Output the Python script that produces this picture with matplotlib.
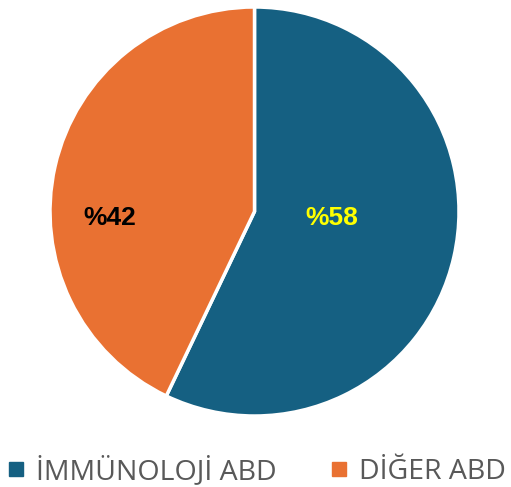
import matplotlib.pyplot as plt
from matplotlib.lines import Line2D

# share of departments
labels = ['İMMÜNOLOJİ ABD', 'DİĞER ABD']
values = [57.1, 42.9]          # slice sizes as drawn
pct_labels = ['%58', '%42']    # data labels as printed
colors = ['#156082', '#E97132']
label_colors = ['#FFFF00', '#000000']

fig = plt.figure(figsize=(5.11, 4.87), dpi=100)
ax = fig.add_axes([50 / 511, (487 - 416) / 487, 409 / 511, 409 / 487])

wedges, texts = ax.pie(values, colors=colors, startangle=90, counterclock=False, radius=1,
                       wedgeprops=dict(edgecolor='white', linewidth=2.5))

# Excel-like placement of the data labels
label_pos = [(0.38, -0.03), (-0.71, -0.03)]
for lab, c, p in zip(pct_labels, label_colors, label_pos):
    ax.text(p[0], p[1], lab, color=c, ha='center', va='center', fontsize=19,
            fontweight='bold', family='Liberation Sans')

ax.set_xlim(-1, 1)
ax.set_ylim(-1, 1)
ax.set_aspect('equal')
ax.axis('off')

handles = [Line2D([], [], marker='s', linestyle='', markersize=10, color=c) for c in colors]
fig.legend(handles, labels, loc='center', bbox_to_anchor=(0.5, 1 - 471 / 487), ncol=2,
           frameon=False, prop=dict(family='Open Sans', size=20.5), labelcolor='#595959',
           handletextpad=0.3, columnspacing=1.8, handlelength=0.8)

fig.savefig('out.png', dpi=100)
